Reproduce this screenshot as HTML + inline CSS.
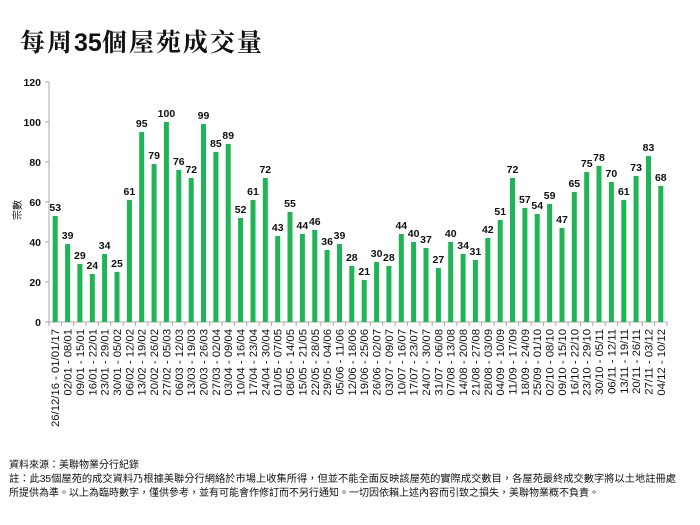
<!DOCTYPE html>
<html><head><meta charset="utf-8"><style>
body{margin:0;background:#fff;}
svg{display:block;font-family:"Liberation Sans","Noto Sans CJK TC",sans-serif;}
.v{font-size:10.5px;font-weight:bold;text-anchor:middle;fill:#111;}
.d{font-size:11.3px;text-anchor:end;fill:#111;}
.y{font-size:10.5px;font-weight:bold;text-anchor:end;fill:#111;}
.f{font-size:10px;fill:#111;font-family:"Liberation Sans","Noto Sans CJK TC",sans-serif;}
rect.b{fill:#1fb455;}
</style></head><body>
<svg width="700" height="525" viewBox="0 0 700 525">
<text x="20" y="51" font-size="25" font-weight="bold" letter-spacing="2" font-family="'Noto Serif CJK SC','Noto Sans CJK TC',serif" fill="#111">每周<tspan font-family="'Liberation Sans',sans-serif" letter-spacing="0">35</tspan>個屋苑成交量</text>
<text transform="translate(21,210) rotate(-90)" font-size="10" text-anchor="middle" fill="#111">宗數</text>
<line x1="49" y1="82" x2="49" y2="322" stroke="#aaa"/>
<line x1="49" y1="322" x2="667" y2="322" stroke="#aaa"/>
<g stroke="#aaa">
<line x1="45" y1="82" x2="49" y2="82"/><line x1="45" y1="122" x2="49" y2="122"/><line x1="45" y1="162" x2="49" y2="162"/><line x1="45" y1="202" x2="49" y2="202"/><line x1="45" y1="242" x2="49" y2="242"/><line x1="45" y1="282" x2="49" y2="282"/><line x1="45" y1="322" x2="49" y2="322"/>
</g>
<text class="y" x="41" y="86">120</text><text class="y" x="41" y="126">100</text><text class="y" x="41" y="166">80</text><text class="y" x="41" y="206">60</text><text class="y" x="41" y="246">40</text><text class="y" x="41" y="286">20</text><text class="y" x="41" y="326">0</text>
<path stroke="#aaa" fill="none" d="M49 322v4M61.4 322v4M73.7 322v4M86.1 322v4M98.4 322v4M110.8 322v4M123.2 322v4M135.5 322v4M147.9 322v4M160.2 322v4M172.6 322v4M185 322v4M197.3 322v4M209.7 322v4M222 322v4M234.4 322v4M246.8 322v4M259.1 322v4M271.5 322v4M283.8 322v4M296.2 322v4M308.6 322v4M320.9 322v4M333.3 322v4M345.6 322v4M358 322v4M370.4 322v4M382.7 322v4M395.1 322v4M407.4 322v4M419.8 322v4M432.2 322v4M444.5 322v4M456.9 322v4M469.2 322v4M481.6 322v4M494 322v4M506.3 322v4M518.7 322v4M531 322v4M543.4 322v4M555.8 322v4M568.1 322v4M580.5 322v4M592.8 322v4M605.2 322v4M617.6 322v4M629.9 322v4M642.3 322v4M654.6 322v4M667 322v4"/>
<g id="bars">
<g transform="translate(55.2,0)"><rect class="b" x="-2.5" y="216" width="5" height="106"/><text class="v" y="211">53</text><text class="d" transform="translate(4,329) rotate(-90)">26/12/16 - 01/01/17</text></g>
<g transform="translate(67.6,0)"><rect class="b" x="-2.5" y="244" width="5" height="78"/><text class="v" y="239">39</text><text class="d" transform="translate(4,329) rotate(-90)">02/01 - 08/01</text></g>
<g transform="translate(79.9,0)"><rect class="b" x="-2.5" y="264" width="5" height="58"/><text class="v" y="259">29</text><text class="d" transform="translate(4,329) rotate(-90)">09/01 - 15/01</text></g>
<g transform="translate(92.3,0)"><rect class="b" x="-2.5" y="274" width="5" height="48"/><text class="v" y="269">24</text><text class="d" transform="translate(4,329) rotate(-90)">16/01 - 22/01</text></g>
<g transform="translate(104.6,0)"><rect class="b" x="-2.5" y="254" width="5" height="68"/><text class="v" y="249">34</text><text class="d" transform="translate(4,329) rotate(-90)">23/01 - 29/01</text></g>
<g transform="translate(117.0,0)"><rect class="b" x="-2.5" y="272" width="5" height="50"/><text class="v" y="267">25</text><text class="d" transform="translate(4,329) rotate(-90)">30/01 - 05/02</text></g>
<g transform="translate(129.4,0)"><rect class="b" x="-2.5" y="200" width="5" height="122"/><text class="v" y="195">61</text><text class="d" transform="translate(4,329) rotate(-90)">06/02 - 12/02</text></g>
<g transform="translate(141.7,0)"><rect class="b" x="-2.5" y="132" width="5" height="190"/><text class="v" y="127">95</text><text class="d" transform="translate(4,329) rotate(-90)">13/02 - 19/02</text></g>
<g transform="translate(154.1,0)"><rect class="b" x="-2.5" y="164" width="5" height="158"/><text class="v" y="159">79</text><text class="d" transform="translate(4,329) rotate(-90)">20/02 - 26/02</text></g>
<g transform="translate(166.4,0)"><rect class="b" x="-2.5" y="122" width="5" height="200"/><text class="v" y="117">100</text><text class="d" transform="translate(4,329) rotate(-90)">27/02 - 05/03</text></g>
<g transform="translate(178.8,0)"><rect class="b" x="-2.5" y="170" width="5" height="152"/><text class="v" y="165">76</text><text class="d" transform="translate(4,329) rotate(-90)">06/03 - 12/03</text></g>
<g transform="translate(191.2,0)"><rect class="b" x="-2.5" y="178" width="5" height="144"/><text class="v" y="173">72</text><text class="d" transform="translate(4,329) rotate(-90)">13/03 - 19/03</text></g>
<g transform="translate(203.5,0)"><rect class="b" x="-2.5" y="124" width="5" height="198"/><text class="v" y="119">99</text><text class="d" transform="translate(4,329) rotate(-90)">20/03 - 26/03</text></g>
<g transform="translate(215.9,0)"><rect class="b" x="-2.5" y="152" width="5" height="170"/><text class="v" y="147">85</text><text class="d" transform="translate(4,329) rotate(-90)">27/03 - 02/04</text></g>
<g transform="translate(228.2,0)"><rect class="b" x="-2.5" y="144" width="5" height="178"/><text class="v" y="139">89</text><text class="d" transform="translate(4,329) rotate(-90)">03/04 - 09/04</text></g>
<g transform="translate(240.6,0)"><rect class="b" x="-2.5" y="218" width="5" height="104"/><text class="v" y="213">52</text><text class="d" transform="translate(4,329) rotate(-90)">10/04 - 16/04</text></g>
<g transform="translate(253.0,0)"><rect class="b" x="-2.5" y="200" width="5" height="122"/><text class="v" y="195">61</text><text class="d" transform="translate(4,329) rotate(-90)">17/04 - 23/04</text></g>
<g transform="translate(265.3,0)"><rect class="b" x="-2.5" y="178" width="5" height="144"/><text class="v" y="173">72</text><text class="d" transform="translate(4,329) rotate(-90)">24/04 - 30/04</text></g>
<g transform="translate(277.7,0)"><rect class="b" x="-2.5" y="236" width="5" height="86"/><text class="v" y="231">43</text><text class="d" transform="translate(4,329) rotate(-90)">01/05 - 07/05</text></g>
<g transform="translate(290.0,0)"><rect class="b" x="-2.5" y="212" width="5" height="110"/><text class="v" y="207">55</text><text class="d" transform="translate(4,329) rotate(-90)">08/05 - 14/05</text></g>
<g transform="translate(302.4,0)"><rect class="b" x="-2.5" y="234" width="5" height="88"/><text class="v" y="229">44</text><text class="d" transform="translate(4,329) rotate(-90)">15/05 - 21/05</text></g>
<g transform="translate(314.8,0)"><rect class="b" x="-2.5" y="230" width="5" height="92"/><text class="v" y="225">46</text><text class="d" transform="translate(4,329) rotate(-90)">22/05 - 28/05</text></g>
<g transform="translate(327.1,0)"><rect class="b" x="-2.5" y="250" width="5" height="72"/><text class="v" y="245">36</text><text class="d" transform="translate(4,329) rotate(-90)">29/05 - 04/06</text></g>
<g transform="translate(339.5,0)"><rect class="b" x="-2.5" y="244" width="5" height="78"/><text class="v" y="239">39</text><text class="d" transform="translate(4,329) rotate(-90)">05/06 - 11/06</text></g>
<g transform="translate(351.8,0)"><rect class="b" x="-2.5" y="266" width="5" height="56"/><text class="v" y="261">28</text><text class="d" transform="translate(4,329) rotate(-90)">12/06 - 18/06</text></g>
<g transform="translate(364.2,0)"><rect class="b" x="-2.5" y="280" width="5" height="42"/><text class="v" y="275">21</text><text class="d" transform="translate(4,329) rotate(-90)">19/06 - 25/06</text></g>
<g transform="translate(376.6,0)"><rect class="b" x="-2.5" y="262" width="5" height="60"/><text class="v" y="257">30</text><text class="d" transform="translate(4,329) rotate(-90)">26/06 - 02/07</text></g>
<g transform="translate(388.9,0)"><rect class="b" x="-2.5" y="266" width="5" height="56"/><text class="v" y="261">28</text><text class="d" transform="translate(4,329) rotate(-90)">03/07 - 09/07</text></g>
<g transform="translate(401.3,0)"><rect class="b" x="-2.5" y="234" width="5" height="88"/><text class="v" y="229">44</text><text class="d" transform="translate(4,329) rotate(-90)">10/07 - 16/07</text></g>
<g transform="translate(413.6,0)"><rect class="b" x="-2.5" y="242" width="5" height="80"/><text class="v" y="237">40</text><text class="d" transform="translate(4,329) rotate(-90)">17/07 - 23/07</text></g>
<g transform="translate(426.0,0)"><rect class="b" x="-2.5" y="248" width="5" height="74"/><text class="v" y="243">37</text><text class="d" transform="translate(4,329) rotate(-90)">24/07 - 30/07</text></g>
<g transform="translate(438.4,0)"><rect class="b" x="-2.5" y="268" width="5" height="54"/><text class="v" y="263">27</text><text class="d" transform="translate(4,329) rotate(-90)">31/07 - 06/08</text></g>
<g transform="translate(450.7,0)"><rect class="b" x="-2.5" y="242" width="5" height="80"/><text class="v" y="237">40</text><text class="d" transform="translate(4,329) rotate(-90)">07/08 - 13/08</text></g>
<g transform="translate(463.1,0)"><rect class="b" x="-2.5" y="254" width="5" height="68"/><text class="v" y="249">34</text><text class="d" transform="translate(4,329) rotate(-90)">14/08 - 20/08</text></g>
<g transform="translate(475.4,0)"><rect class="b" x="-2.5" y="260" width="5" height="62"/><text class="v" y="255">31</text><text class="d" transform="translate(4,329) rotate(-90)">21/08 - 27/08</text></g>
<g transform="translate(487.8,0)"><rect class="b" x="-2.5" y="238" width="5" height="84"/><text class="v" y="233">42</text><text class="d" transform="translate(4,329) rotate(-90)">28/08 - 03/09</text></g>
<g transform="translate(500.2,0)"><rect class="b" x="-2.5" y="220" width="5" height="102"/><text class="v" y="215">51</text><text class="d" transform="translate(4,329) rotate(-90)">04/09 - 10/09</text></g>
<g transform="translate(512.5,0)"><rect class="b" x="-2.5" y="178" width="5" height="144"/><text class="v" y="173">72</text><text class="d" transform="translate(4,329) rotate(-90)">11/09 - 17/09</text></g>
<g transform="translate(524.9,0)"><rect class="b" x="-2.5" y="208" width="5" height="114"/><text class="v" y="203">57</text><text class="d" transform="translate(4,329) rotate(-90)">18/09 - 24/09</text></g>
<g transform="translate(537.2,0)"><rect class="b" x="-2.5" y="214" width="5" height="108"/><text class="v" y="209">54</text><text class="d" transform="translate(4,329) rotate(-90)">25/09 - 01/10</text></g>
<g transform="translate(549.6,0)"><rect class="b" x="-2.5" y="204" width="5" height="118"/><text class="v" y="199">59</text><text class="d" transform="translate(4,329) rotate(-90)">02/10 - 08/10</text></g>
<g transform="translate(562.0,0)"><rect class="b" x="-2.5" y="228" width="5" height="94"/><text class="v" y="223">47</text><text class="d" transform="translate(4,329) rotate(-90)">09/10 - 15/10</text></g>
<g transform="translate(574.3,0)"><rect class="b" x="-2.5" y="192" width="5" height="130"/><text class="v" y="187">65</text><text class="d" transform="translate(4,329) rotate(-90)">16/10 - 22/10</text></g>
<g transform="translate(586.7,0)"><rect class="b" x="-2.5" y="172" width="5" height="150"/><text class="v" y="167">75</text><text class="d" transform="translate(4,329) rotate(-90)">23/10 - 29/10</text></g>
<g transform="translate(599.0,0)"><rect class="b" x="-2.5" y="166" width="5" height="156"/><text class="v" y="161">78</text><text class="d" transform="translate(4,329) rotate(-90)">30/10 - 05/11</text></g>
<g transform="translate(611.4,0)"><rect class="b" x="-2.5" y="182" width="5" height="140"/><text class="v" y="177">70</text><text class="d" transform="translate(4,329) rotate(-90)">06/11 - 12/11</text></g>
<g transform="translate(623.8,0)"><rect class="b" x="-2.5" y="200" width="5" height="122"/><text class="v" y="195">61</text><text class="d" transform="translate(4,329) rotate(-90)">13/11 - 19/11</text></g>
<g transform="translate(636.1,0)"><rect class="b" x="-2.5" y="176" width="5" height="146"/><text class="v" y="171">73</text><text class="d" transform="translate(4,329) rotate(-90)">20/11 - 26/11</text></g>
<g transform="translate(648.5,0)"><rect class="b" x="-2.5" y="156" width="5" height="166"/><text class="v" y="151">83</text><text class="d" transform="translate(4,329) rotate(-90)">27/11 - 03/12</text></g>
<g transform="translate(660.8,0)"><rect class="b" x="-2.5" y="186" width="5" height="136"/><text class="v" y="181">68</text><text class="d" transform="translate(4,329) rotate(-90)">04/12 - 10/12</text></g>
</g>
<text class="f" x="9" y="468">資料來源：美聯物業分行紀錄</text>
<text class="f" x="9" y="482" textLength="667" lengthAdjust="spacingAndGlyphs">註：此35個屋苑的成交資料乃根據美聯分行網絡於市場上收集所得，但並不能全面反映該屋苑的實際成交數目，各屋苑最終成交數字將以土地註冊處</text>
<text class="f" x="9" y="496">所提供為準。以上為臨時數字，僅供參考，並有可能會作修訂而不另行通知。一切因依賴上述內容而引致之損失，美聯物業概不負責。</text>
</svg>
</body></html>
